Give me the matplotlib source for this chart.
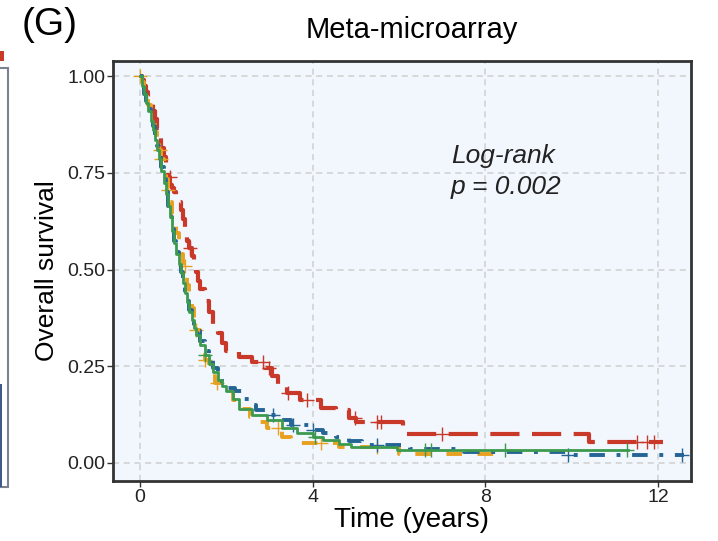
import numpy as np
import matplotlib.pyplot as plt
from matplotlib.patches import Rectangle

plt.rcParams['font.family'] = ['Liberation Sans', 'DejaVu Sans']

# Kaplan-Meier step curves (time in years, survival)
red_t = [0, 0.05, 0.1, 0.15, 0.2, 0.25, 0.3, 0.35, 0.4, 0.45, 0.5, 0.55, 0.6, 0.65, 0.7,
         0.75, 0.8, 0.85, 0.9, 0.95, 1.0, 1.05, 1.1, 1.15, 1.2, 1.25, 1.3, 1.35, 1.4, 1.5,
         1.6, 1.7, 1.8, 1.9, 2.0, 2.3, 2.6, 2.9, 3.05, 3.2, 3.4, 3.7, 4.2, 4.55, 4.85, 5.0,
         6.1, 10.4, 12.1]
red_s = [1.0, 0.99, 0.975, 0.96, 0.945, 0.93, 0.91, 0.89, 0.865, 0.84, 0.815, 0.79, 0.765,
         0.74, 0.72, 0.71, 0.70, 0.69, 0.675, 0.655, 0.63, 0.6, 0.575, 0.555, 0.535, 0.515,
         0.495, 0.47, 0.45, 0.42, 0.39, 0.36, 0.335, 0.31, 0.29, 0.275, 0.26, 0.245, 0.225,
         0.2, 0.18, 0.163, 0.142, 0.137, 0.116, 0.106, 0.075, 0.054, 0.054]
red_cens = [0.69, 1.16, 2.85, 3.0, 3.43, 3.86, 4.98, 5.48, 5.58, 7.0, 11.5, 11.73, 11.9]

orange_t = [0, 0.05, 0.1, 0.15, 0.2, 0.25, 0.3, 0.35, 0.4, 0.45, 0.5, 0.55, 0.6, 0.65, 0.7,
            0.75, 0.8, 0.85, 0.9, 0.95, 1.0, 1.05, 1.1, 1.15, 1.2, 1.25, 1.3, 1.4, 1.5, 1.6,
            1.75, 1.95, 2.15, 2.35, 2.55, 2.75, 2.95, 3.3, 3.5, 4.6, 6.0, 8.3]
orange_s = [1.0, 0.985, 0.965, 0.945, 0.925, 0.9, 0.88, 0.855, 0.83, 0.81, 0.785, 0.76,
            0.735, 0.705, 0.675, 0.645, 0.62, 0.595, 0.565, 0.54, 0.51, 0.485, 0.46, 0.43,
            0.4, 0.37, 0.345, 0.3, 0.265, 0.24, 0.207, 0.185, 0.163, 0.14, 0.12, 0.105,
            0.09, 0.067, 0.052, 0.04, 0.024, 0.024]
orange_cens = [0.0, 0.46, 0.5, 0.65, 1.04, 1.3, 1.5, 1.78, 3.2, 4.2, 5.5]

blue_t = [0, 0.05, 0.1, 0.15, 0.2, 0.25, 0.3, 0.35, 0.4, 0.45, 0.5, 0.55, 0.6, 0.65, 0.7,
          0.75, 0.8, 0.85, 0.9, 0.95, 1.0, 1.05, 1.1, 1.15, 1.2, 1.25, 1.3, 1.4, 1.5, 1.6,
          1.7, 1.8, 1.9, 2.0, 2.2, 2.4, 2.55, 2.7, 2.9, 3.15, 3.5, 3.95, 4.25, 4.55, 4.85,
          5.15, 6.25, 7.5, 9.9, 12.6]
blue_s = [1.0, 0.975, 0.955, 0.935, 0.915, 0.895, 0.87, 0.845, 0.82, 0.795, 0.765, 0.735,
          0.70, 0.665, 0.635, 0.605, 0.575, 0.545, 0.52, 0.495, 0.47, 0.445, 0.42, 0.395,
          0.375, 0.355, 0.34, 0.315, 0.29, 0.265, 0.245, 0.225, 0.21, 0.195, 0.185, 0.165,
          0.15, 0.137, 0.125, 0.111, 0.098, 0.085, 0.077, 0.067, 0.057, 0.047, 0.035,
          0.028, 0.021, 0.021]
blue_cens = [3.08, 3.55, 4.0, 5.5, 9.9, 12.55]

green_t = [0, 0.05, 0.1, 0.15, 0.2, 0.25, 0.3, 0.35, 0.4, 0.45, 0.5, 0.55, 0.6, 0.65, 0.7,
           0.75, 0.8, 0.85, 0.9, 0.95, 1.0, 1.05, 1.1, 1.15, 1.2, 1.25, 1.3, 1.4, 1.5, 1.6,
           1.7, 1.8, 1.9, 2.0, 2.15, 2.3, 2.6, 2.95, 3.3, 3.65, 4.0, 4.25, 4.6, 4.9, 5.95,
           11.3]
green_s = [1.0, 0.975, 0.955, 0.93, 0.91, 0.885, 0.86, 0.835, 0.81, 0.785, 0.755, 0.725,
           0.695, 0.665, 0.635, 0.6, 0.57, 0.54, 0.515, 0.49, 0.465, 0.44, 0.415, 0.39,
           0.37, 0.35, 0.33, 0.305, 0.28, 0.255, 0.235, 0.215, 0.2, 0.185, 0.165, 0.14,
           0.125, 0.11, 0.09, 0.078, 0.068, 0.06, 0.05, 0.041, 0.034, 0.034]
green_cens = [1.5, 4.05, 6.6, 6.75, 8.45, 11.27]

x_ticks = [0, 4, 8, 12]
y_ticks = [0.0, 0.25, 0.5, 0.75, 1.0]
y_ticklabels = ['0.00', '0.25', '0.50', '0.75', '1.00']

groups = [
    (red_t, red_s, red_cens, '#C8392A', (0, (7, 3)), 3.0),
    (orange_t, orange_s, orange_cens, '#E8A020', (0, (4, 4)), 2.8),
    (blue_t, blue_s, blue_cens, '#256596', (0, (1, 3, 4, 3)), 2.8),
    (green_t, green_s, green_cens, '#3C9A4E', '-', 2.0),
]


def main():
    fig = plt.figure(figsize=(7.18, 5.41), dpi=100)
    ax = fig.add_axes([0.157, 0.111, 0.805, 0.776])
    ax.set_facecolor('#F2F6FD')

    for t, s, cens, color, ls, lw in groups:
        ax.step(t, s, where='post', color=color, linestyle=ls, linewidth=lw)
        # censor marks sit on the curve at the censoring time
        idx = np.searchsorted(t, cens, side='right') - 1
        ax.plot(cens, np.array(s)[idx], linestyle='none', marker='+',
                markersize=10, markeredgewidth=1.0, color=color)

    ax.set_xlim(-0.625, 12.75)
    ax.set_ylim(-0.0465, 1.039)
    ax.set_xticks(x_ticks)
    ax.set_yticks(y_ticks)
    ax.set_yticklabels(y_ticklabels)
    ax.grid(True, color='#CFCFCF', linestyle=(0, (4, 3)), linewidth=1.1)
    ax.set_axisbelow(True)
    for sp in ax.spines.values():
        sp.set_color('#333333')
        sp.set_linewidth(2.0)
    ax.tick_params(direction='out', length=4, width=1, color='#333333',
                   labelsize=14, labelcolor='#222222', pad=1.5)

    ax.set_xlabel('Time (years)', fontsize=20)
    ax.xaxis.set_label_coords(0.517, -0.063)
    ax.set_ylabel('Overall survival', fontsize=19, labelpad=6)
    fig.text(0.574, 0.945, 'Meta-microarray', fontsize=21, ha='center', va='center')

    ax.text(7.2, 0.825, 'Log-rank\np = 0.002', fontsize=19, style='italic',
            ha='left', va='top', color='#222222', linespacing=1.4)

    fig.text(0.03, 0.953, '(G)', fontsize=28, ha='left', va='center')

    # remnant of the neighbouring panel on the left edge
    fig.add_artist(Rectangle((-0.02, 0.1), 0.031, 0.775, transform=fig.transFigure,
                             facecolor='none', edgecolor='#7A8290', linewidth=1.5))
    fig.add_artist(Rectangle((-0.02, 0.1), 0.023, 0.19, transform=fig.transFigure,
                             facecolor='#3D5A8A', edgecolor='none'))
    fig.add_artist(Rectangle((-0.02, 0.888), 0.025, 0.018, transform=fig.transFigure,
                             facecolor='#C8392A', edgecolor='none'))

    fig.savefig('out.png', dpi=100)


if __name__ == '__main__':
    main()
